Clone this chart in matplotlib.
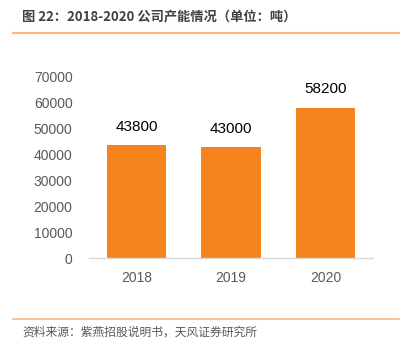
import matplotlib
matplotlib.use("Agg")
import matplotlib.pyplot as plt
from matplotlib.lines import Line2D

categories = ["2018", "2019", "2020"]
values = [43800, 43000, 58200]
yticks = [0, 10000, 20000, 30000, 40000, 50000, 60000, 70000]
title = "图 22：2018-2020 公司产能情况（单位：吨）"
source = "资料来源：紫燕招股说明书，天风证券研究所"

plt.rcParams['font.family'] = ['Liberation Sans', 'Noto Sans CJK SC', 'DejaVu Sans']

W, H = 407, 345
fig = plt.figure(figsize=(W / 100, H / 100), dpi=100)
ax = fig.add_axes([89.25 / W, 1 - 258 / H, (372.75 - 89.25) / W, (258 - 77) / H])

x = list(range(len(categories)))
bars = ax.bar(x, values, width=0.625, color="#F5841F", edgecolor="#F5841F", linewidth=0, zorder=2)
ax.set_xlim(-0.5, 2.5)
ax.set_ylim(0, 70000)
ax.set_xticks(x)
ax.set_xticklabels(categories)
ax.set_yticks(yticks)
ax.set_yticklabels([str(v) for v in yticks])
for s in ["top", "right", "left"]:
    ax.spines[s].set_visible(False)
ax.spines["bottom"].set_color("#D9D9D9")
ax.spines["bottom"].set_linewidth(1.0)
ax.tick_params(axis="both", length=0, colors="#595959", labelsize=10)
ax.tick_params(axis="y", pad=12)
ax.tick_params(axis="x", pad=9)

for xi, v in zip(x, values):
    ax.annotate(str(v), (xi, v), xytext=(0, 8), textcoords="offset points",
                ha="center", va="bottom", fontsize=11, color="#000000")

fig.text(22 / W, 1 - 16 / H, title, ha="left", va="center", fontsize=9.5,
         fontweight="bold", color="#404040",
         family=["Noto Sans CJK SC", "DejaVu Sans"])
fig.text(22 / W, 1 - 332 / H, source, ha="left", va="center", fontsize=8.5,
         color="#595959", family=["Noto Sans CJK SC", "DejaVu Sans"])

fig.add_artist(Line2D([13 / W, 399 / W], [1 - 33 / H, 1 - 33 / H], color="#FBB683", linewidth=1.5))
fig.add_artist(Line2D([13 / W, 399 / W], [1 - 319 / H, 1 - 319 / H], color="#FBB683", linewidth=1.2))

fig.savefig("out.png", dpi=100)
